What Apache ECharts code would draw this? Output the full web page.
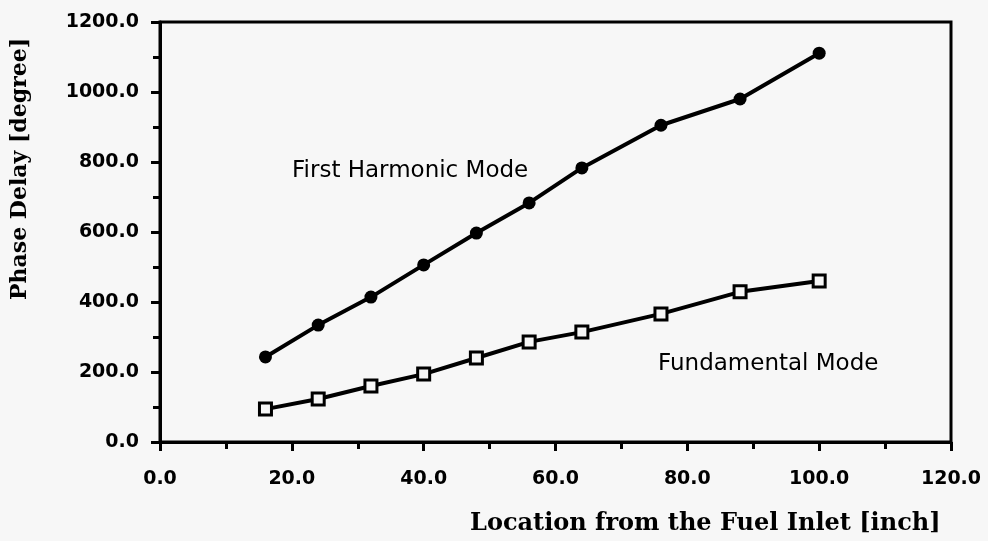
<!DOCTYPE html>
<html>
<head>
<meta charset="utf-8">
<script src="https://cdn.jsdelivr.net/npm/echarts@6/dist/echarts.min.js"></script>
<style>
  html, body { margin: 0; padding: 0; background: #f7f7f7; }
  #chart { width: 988px; height: 541px; }
</style>
</head>
<body>
<div id="chart"></div>
<script>
// location [inch]
var locations = [16, 24, 32, 40, 48, 56, 64, 76, 88, 100];
// phase delay [degree]
var firstHarmonic = [243, 334, 414, 506, 597, 683, 783, 905, 980, 1111];
var fundamental = [94, 123, 160, 194, 240, 286, 314, 366, 429, 460];

function pairs(xs, ys) {
  return xs.map(function (x, i) { return [x, ys[i]]; });
}

var chart = echarts.init(document.getElementById('chart'));
var option = {
  backgroundColor: '#f7f7f7',
  animation: false,
  grid: {
    left: 160, right: 37, top: 22, bottom: 99,
    show: true, borderColor: '#000', borderWidth: 3
  },
  xAxis: {
    type: 'value',
    min: 0, max: 120, interval: 20,
    axisLine: { lineStyle: { color: '#000', width: 3 } },
    axisTick: { length: 9, lineStyle: { color: '#000', width: 3 } },
    minorTick: { show: true, splitNumber: 2, length: 7, lineStyle: { color: '#000', width: 3 } },
    splitLine: { show: false },
    axisLabel: {
      margin: 28,
      color: '#000',
      fontFamily: 'DejaVu Sans', fontWeight: 'bold', fontSize: 19,
      formatter: function (v) { return v.toFixed(1); }
    }
  },
  yAxis: {
    type: 'value',
    min: 0, max: 1200, interval: 200,
    axisLine: { show: true, lineStyle: { color: '#000', width: 3 } },
    axisTick: { show: true, length: 9, lineStyle: { color: '#000', width: 3 } },
    minorTick: { show: true, splitNumber: 2, length: 7, lineStyle: { color: '#000', width: 3 } },
    splitLine: { show: false },
    axisLabel: {
      margin: 21,
      color: '#000',
      fontFamily: 'DejaVu Sans', fontWeight: 'bold', fontSize: 19,
      formatter: function (v) { return v.toFixed(1); }
    }
  },
  graphic: [
    {
      type: 'text', left: 292, top: 160,
      style: { text: 'First Harmonic Mode', fill: '#000', font: '23px "DejaVu Sans"' }
    },
    {
      type: 'text', left: 658, top: 353,
      style: { text: 'Fundamental Mode', fill: '#000', font: '23px "DejaVu Sans"' }
    },
    {
      type: 'text', left: 470, top: 512,
      style: { text: 'Location from the Fuel Inlet [inch]', fill: '#000', font: 'bold 24px "DejaVu Serif"' }
    },
    {
      type: 'text', x: 9, y: 300, rotation: Math.PI / 2,
      style: { text: 'Phase Delay [degree]', fill: '#000', font: 'bold 22px "DejaVu Serif"', align: 'left', verticalAlign: 'top' }
    }
  ],
  series: [
    {
      name: 'First Harmonic Mode',
      type: 'line',
      data: pairs(locations, firstHarmonic),
      symbol: 'circle',
      symbolSize: 13,
      itemStyle: { color: '#000' },
      lineStyle: { color: '#000', width: 4 }
    },
    {
      name: 'Fundamental Mode',
      type: 'line',
      data: pairs(locations, fundamental),
      symbol: 'rect',
      symbolSize: 12,
      itemStyle: { color: '#f7f7f7', borderColor: '#000', borderWidth: 3 },
      lineStyle: { color: '#000', width: 4 }
    }
  ]
};
chart.setOption(option);
window.addEventListener('resize', function () { chart.resize(); });
</script>
</body>
</html>
